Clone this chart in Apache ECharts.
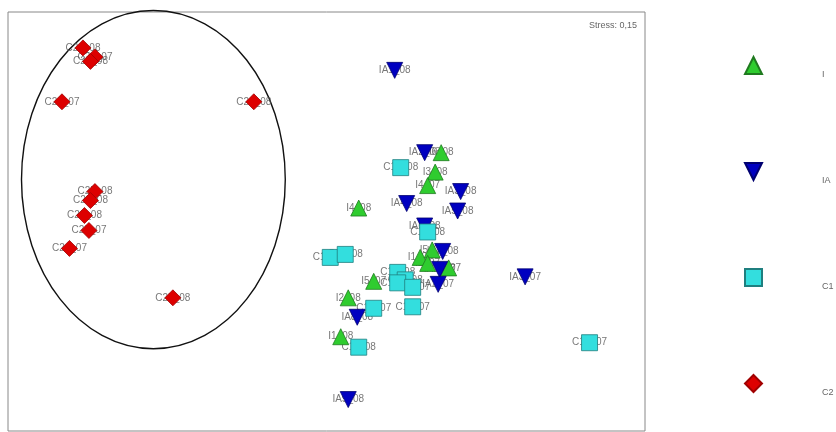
<!DOCTYPE html>
<html>
<head>
<meta charset="utf-8">
<title>NMDS</title>
<script src="https://cdn.jsdelivr.net/npm/echarts@6/dist/echarts.min.js"></script>
<style>
  html, body { margin: 0; padding: 0; background: #fff; }
  #chart { width: 836px; height: 432px; }
</style>
</head>
<body>
<div id="chart"></div>
<script>
// NMDS coordinates per group: [x, y, sample]
const groupI = [
  [0.74, 0.45, "I6_08"],
  [0.70, 0.32, "I3_08"],
  [0.65, 0.23, "I4_07"],
  [0.19, 0.08, "I4_08"],
  [0.60, -0.25, "I1_07"],
  [0.68, -0.20, "I5_08"],
  [0.65, -0.29, "I2_07"],
  [0.79, -0.32, "I3_07"],
  [0.29, -0.41, "I5_07"],
  [0.12, -0.52, "I2_08"],
  [0.07, -0.78, "I1_08"]
];
const groupIA = [
  [0.43, 1.00, "IA1_08"],
  [0.63, 0.45, "IA2_08"],
  [0.87, 0.19, "IA3_08"],
  [0.51, 0.11, "IA4_08"],
  [0.85, 0.06, "IA5_08"],
  [0.63, -0.04, "IA6_08"],
  [0.75, -0.21, "IA7_08"],
  [0.73, -0.33, "IA1_07"],
  [0.72, -0.43, "IA2_07"],
  [1.30, -0.38, "IA3_07"],
  [0.18, -0.65, "IA8_08"],
  [0.12, -1.20, "IA9_08"]
];
const groupC1 = [
  [0.47, 0.35, "C14_08"],
  [0.65, -0.08, "C13_08"],
  [0.00, -0.25, "C15_08"],
  [0.10, -0.23, "C16_08"],
  [0.45, -0.35, "C17_08"],
  [0.50, -0.40, "C18_08"],
  [0.45, -0.42, "C13_07"],
  [0.55, -0.45, "C15_07"],
  [0.29, -0.59, "C12_07"],
  [0.55, -0.58, "C11_07"],
  [0.19, -0.85, "C11_08"],
  [1.73, -0.82, "C14_07"]
];
const groupC2 = [
  [-1.65, 1.15, "C21_08"],
  [-1.57, 1.09, "C22_07"],
  [-1.60, 1.06, "C23_08"],
  [-1.79, 0.79, "C21_07"],
  [-0.51, 0.79, "C24_08"],
  [-1.57, 0.19, "C25_08"],
  [-1.60, 0.13, "C22_08"],
  [-1.64, 0.03, "C26_08"],
  [-1.61, -0.07, "C23_07"],
  [-1.74, -0.19, "C24_07"],
  [-1.05, -0.52, "C27_08"]
];
const groupNames = ["I", "IA", "C1", "C2"];
const stressText = "Stress: 0,15";
// ellipse drawn round the C2 group (data units)
const ellipseC2 = { cx: -1.18, cy: 0.27, rx: 0.88, ry: 1.13 };

const groups = [
  { name: "I", data: groupI, symbol: "triangle", color: "#2fcc2f", border: "#1f7a1f" },
  { name: "IA", data: groupIA, symbol: "path://M0,0L2,0L1,2Z", color: "#0000c0", border: "#000070" },
  { name: "C1", data: groupC1, symbol: "rect", color: "#33dede", border: "#1f7f7f" },
  { name: "C2", data: groupC2, symbol: "diamond", color: "#dd0000", border: "#a00000" }
];

let series = [];
groups.forEach(function (g) {
  // sample names sit under the markers
  series.push({
    name: g.name + " labels",
    type: "scatter",
    data: g.data,
    symbolSize: 1,
    itemStyle: { color: "rgba(0,0,0,0)" },
    silent: true,
    z: 2,
    label: {
      show: true,
      position: "inside",
      formatter: function (p) { return p.value[2]; },
      color: "#555",
      fontSize: 10,
      fontFamily: "Liberation Sans"
    }
  });
});
groups.forEach(function (g) {
  series.push({
    name: g.name,
    type: "scatter",
    data: g.data,
    symbol: g.symbol,
    symbolSize: 16,
    z: 3,
    itemStyle: { color: g.color, borderColor: g.border, borderWidth: 0.8, opacity: 1 }
  });
});

const hidden = {
  axisLine: { show: false },
  axisTick: { show: false },
  axisLabel: { show: false },
  splitLine: { show: false }
};

let chart = echarts.init(document.getElementById("chart"), null, { renderer: "canvas" });
chart.setOption({
  animation: false,
  backgroundColor: "#fff",
  title: {
    text: stressText,
    right: 194,
    top: 16,
    textStyle: { fontSize: 9, fontWeight: "normal", color: "#666", fontFamily: "Liberation Sans" }
  },
  grid: {
    show: true,
    left: 8, top: 12, width: 637, height: 419,
    borderColor: "#888", borderWidth: 1
  },
  xAxis: Object.assign({ type: "value", min: -2.15, max: 2.1 }, hidden),
  yAxis: Object.assign({ type: "value", min: -1.41, max: 1.39 }, hidden),
  legend: {
    data: groupNames,
    orient: "vertical",
    left: 739,
    top: 51,
    itemWidth: 17,
    itemHeight: 17,
    itemGap: 83,
    selectedMode: false,
    formatter: "{t|{name}}",
    textStyle: {
      rich: {
        t: { fontSize: 9, color: "#666", fontFamily: "Liberation Sans", padding: [18, 0, 0, 55] }
      }
    }
  },
  series: series
});

// ellipse round C2, placed through the axes
const c = chart.convertToPixel({ gridIndex: 0 }, [ellipseC2.cx, ellipseC2.cy]);
const e = chart.convertToPixel({ gridIndex: 0 }, [ellipseC2.cx + ellipseC2.rx, ellipseC2.cy + ellipseC2.ry]);
chart.setOption({
  graphic: [{
    type: "ellipse",
    shape: { cx: c[0], cy: c[1], rx: e[0] - c[0], ry: c[1] - e[1] },
    style: { fill: null, stroke: "#111", lineWidth: 1.4 },
    silent: true,
    z: 1
  }]
});
</script>
</body>
</html>
